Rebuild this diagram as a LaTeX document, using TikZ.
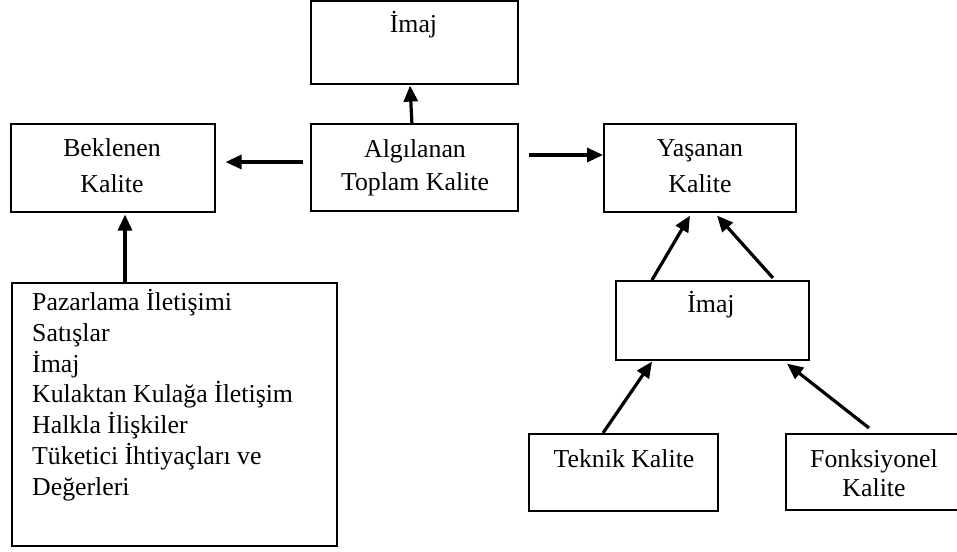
\documentclass[tikz,border=0pt]{standalone}
\usepackage{fontspec}
\setmainfont{Liberation Serif}
\usetikzlibrary{calc,arrows.meta}
\begin{document}
\begin{tikzpicture}[x=1pt,y=-1pt,
  box/.style={draw, line width=1.6pt, anchor=north west, inner sep=0pt, rectangle},
  txt/.style={anchor=base, inner sep=0pt},
  arr/.style={line width=3.2pt, -{Triangle[length=16pt,width=14pt]}}]
\useasboundingbox (0,0) rectangle (957,551);

% boxes
\node[box, minimum width=207pt, minimum height=82.5pt] (img1) at (310,0.5) {};
\node[box, minimum width=204pt, minimum height=88pt] (bek) at (10,123) {};
\node[box, minimum width=207pt, minimum height=87pt] (alg) at (310,123) {};
\node[box, minimum width=192pt, minimum height=88pt] (yas) at (603,123) {};
\node[box, minimum width=325pt, minimum height=263pt] (big) at (11,282) {};
\node[box, minimum width=193pt, minimum height=79pt] (img2) at (615,280) {};
\node[box, minimum width=189pt, minimum height=77pt] (tek) at (528,433) {};
\node[box, minimum width=177pt, minimum height=76pt] (fonk) at (785,433) {};

% labels
\node[txt, font=\fontsize{25.8}{30}\selectfont] (timg1) at (413.5,33) {İmaj};
\node[txt, font=\fontsize{25.8}{36}\selectfont] (tbek) at (112,156)
  {\begin{tabular}[t]{@{}c@{}}Beklenen\\Kalite\end{tabular}};
\node[txt, font=\fontsize{25.8}{33}\selectfont] (talg) at (415,157)
  {\begin{tabular}[t]{@{}c@{}}Algılanan\\Toplam Kalite\end{tabular}};
\node[txt, font=\fontsize{25.8}{36}\selectfont] (tyas) at (700,156)
  {\begin{tabular}[t]{@{}c@{}}Yaşanan\\Kalite\end{tabular}};
\node[txt, anchor=base west, font=\fontsize{25.8}{30.75}\selectfont] (tbig) at (32,310.5)
  {\begin{tabular}[t]{@{}l@{}}Pazarlama İletişimi\\Satışlar\\İmaj\\Kulaktan Kulağa İletişim\\Halkla İlişkiler\\Tüketici İhtiyaçları ve\\Değerleri\end{tabular}};
\node[txt, font=\fontsize{25.8}{30}\selectfont] (timg2) at (711,312) {İmaj};
\node[txt, font=\fontsize{25.8}{30}\selectfont] (ttek) at (624,467) {Teknik Kalite};
\node[txt, font=\fontsize{25.8}{29}\selectfont] (tfonk) at (874,467)
  {\begin{tabular}[t]{@{}c@{}}Fonksiyonel\\Kalite\end{tabular}};

% connectors
\draw[arr] ($(alg.north west)+(102,2)$) -- ($(img1.south west)+(100,1)$);
\draw[arr] ($(alg.north west)+(-7,39)$) -- ($(bek.north east)+(10,39)$);
\draw[arr] ($(alg.north east)+(10,32)$) -- ($(yas.north west)+(0,32)$);
\draw[arr] ($(big.north west)+(114,0)$) -- ($(bek.south west)+(115,2)$);
\draw[arr] ($(img2.north west)+(37,0)$) -- ($(yas.south west)+(87,3)$);
\draw[arr] ($(img2.north west)+(158,-2)$) -- ($(yas.south west)+(114,3)$);
\draw[arr] ($(tek.north west)+(75,0)$) -- ($(img2.south west)+(37,1)$);
\draw[arr] ($(fonk.north west)+(84,-5)$) -- ($(img2.south west)+(172,3)$);
\end{tikzpicture}
\end{document}
